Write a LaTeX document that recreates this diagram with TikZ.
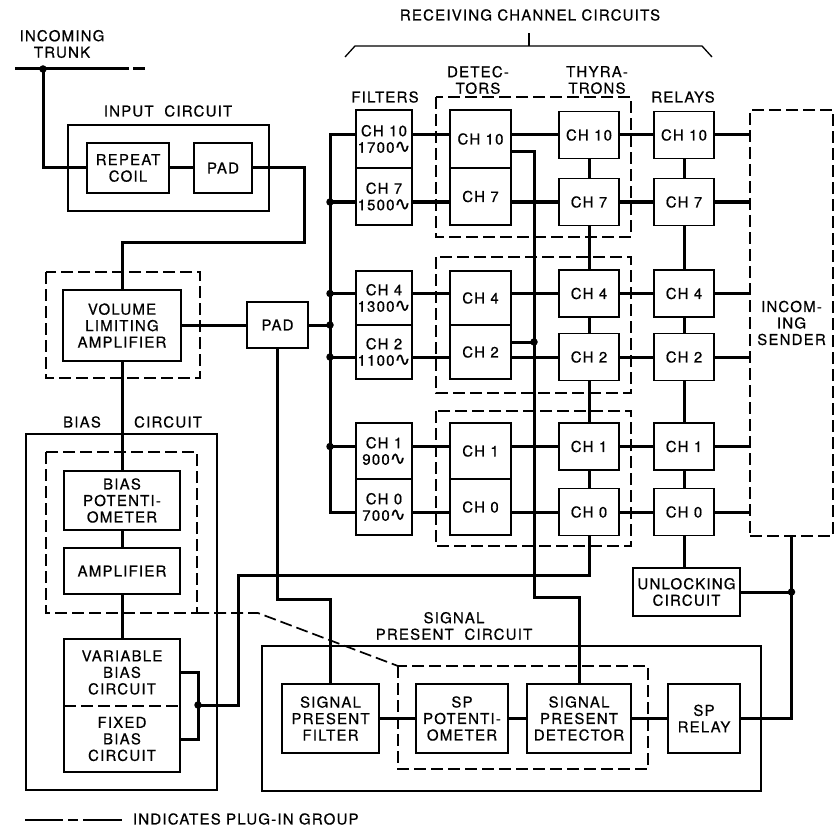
\documentclass[tikz,border=0pt]{standalone}
\usepackage{fontspec}
\setmainfont{TeX Gyre Heros}[LetterSpace=8, FakeBold=0.6]
\newfontfamily\symf{DejaVu Sans}[FakeBold=0.6]
\usetikzlibrary{positioning}
\newcommand{\cyc}{{\symf\fontsize{19}{16.5}\selectfont\char"223F}}
\tikzset{
  lbl/.style={font=\fontsize{15}{16.5}\selectfont, align=center, inner sep=0pt, outer sep=0pt},
  box/.style={lbl, draw, line width=1.3pt, fill=white},
  txt/.style={lbl},
  sz/.style 2 args={minimum width=#1pt, minimum height=#2pt},
  wire/.style={line width=3pt},
  grp/.style={draw, line width=1.7pt, dash pattern=on 12pt off 5pt},
  cktbox/.style={draw, line width=1.3pt},
  dot/.style={circle, fill, inner sep=0pt, minimum size=7.5pt},
}

\begin{document}
\begin{tikzpicture}[x=1pt, y=-1pt]
    \useasboundingbox (0,0) rectangle (840,829);

    % input side
    \node[txt] (trunk) at (62,44) {INCOMING\\TRUNK};
    \coordinate (trA) at (15,69);
    \coordinate (tap) at (43,69);
    \coordinate (trB) at (115,69);
    \coordinate (trC) at (145,69);
    \draw[cktbox] (68,125) rectangle (269,211);
    \node[txt] (inlbl) at (168,111) {INPUT\ \ CIRCUIT};
    \node[box, sz={82}{50}] (rc) at (128,168) {REPEAT\\COIL};
    \node[box, sz={58}{50}] (pad1) at (223,168) {PAD};
    \coordinate (ic) at (304,242);

    \draw[grp] (46,272) rectangle (200,378);
    \node[box, sz={118}{71}] (vla) at (122,325.5) {VOLUME\\LIMITING\\AMPLIFIER};
    \node[box, sz={61}{46}] (pad2) at (277.5,325) {PAD};
    \coordinate (pk) at (277.5,599);

    % bias circuit
    \draw[cktbox] (26,434) rectangle (217,790);
    \node[txt] (blbl) at (82,422) {BIAS};
    \node[txt] (clbl) at (168,422) {CIRCUIT};
    \draw[grp] (46,452) rectangle (197,613);
    \node[box, sz={116}{59}] (bp) at (122,500.5) {BIAS\\POTENTI-\\OMETER};
    \node[box, sz={116}{46}] (amp) at (122,571) {AMPLIFIER};
    \node[txt, sz={116}{67}] (vb) at (122,672.5) {VARIABLE\\BIAS\\CIRCUIT};
    \node[txt, sz={116}{66}, below=0pt of vb] (fb) {FIXED\\BIAS\\CIRCUIT};
    \draw[cktbox] (vb.north west) rectangle (fb.south east);
    \draw[grp, line width=1.3pt] (vb.south west) -- (vb.south east);
    \coordinate (j1) at (198,705);
    \coordinate (bk) at (238,575);

    % receiving channel circuits
    \node[txt] (rcc) at (530,15) {RECEIVING CHANNEL CIRCUITS};
    \draw[line width=1.3pt] (345,57) -- (355,46) -- (702,46) -- (712,57);
    \draw[line width=1.3pt] (529,46) -- (529,33);
    \node[txt] (lfil) at (385,97) {FILTERS};
    \node[txt] (ldet) at (478,80) {DETEC-\\TORS};
    \node[txt] (lthy) at (597,80) {THYRA-\\TRONS};
    \node[txt] (lrel) at (683,97) {RELAYS};

    \foreach \ya/\yb in {97/237, 257/393, 411/546}
      \draw[grp] (436,\ya) rectangle (631,\yb);

    \node[box, sz={56}{58}] (f10) at (384,139) {CH 10\\1700\cyc};
    \node[box, sz={56}{57}, below=0pt of f10] (f7) {CH 7\\1500\cyc};
    \node[box, sz={56}{54}] (f4) at (384,298) {CH 4\\1300\cyc};
    \node[box, sz={56}{54}, below=0pt of f4] (f2) {CH 2\\1100\cyc};
    \node[box, sz={56}{56}] (f1) at (384,451) {CH 1\\900\cyc};
    \node[box, sz={56}{56}, below=0pt of f1] (f0) {CH 0\\700\cyc};

    \node[box, sz={61}{58}] (d10) at (480.5,139) {CH 10};
    \node[box, sz={61}{57}, below=0pt of d10] (d7) {CH 7};
    \node[box, sz={61}{54}] (d4) at (480.5,298) {CH 4};
    \node[box, sz={61}{54}, below=0pt of d4] (d2) {CH 2};
    \node[box, sz={61}{56}] (d1) at (480.5,451) {CH 1};
    \node[box, sz={61}{56}, below=0pt of d1] (d0) {CH 0};

    \foreach \c/\y in {10/135, 7/202, 4/293.5, 2/357, 1/446.5, 0/512} {
      \node[box, sz={60}{47}] (t\c) at (589,\y) {CH \c};
      \node[box, sz={60}{47}] (r\c) at (684,\y) {CH \c};
    }

    \node[lbl, grp, sz={83}{426}] (snd) at (791.5,323) {INCOM-\\ING\\SENDER};
    \node[box, sz={107}{48}] (unl) at (686.5,592) {UNLOCKING\\CIRCUIT};
    \coordinate (bus) at (330,512);
    \coordinate (dv) at (534,597);
    \coordinate (d2o) at ([yshift=10pt]d2.east);

    % signal present circuit
    \draw[cktbox] (262,646) rectangle (761,791);
    \node[txt] (splbl) at (454,626) {SIGNAL\\PRESENT\ \ CIRCUIT};
    \draw[grp] (398,666) rectangle (648,769);
    \draw[grp] (197,613) -- (258,613) -- (398,666);
    \node[box, sz={97}{69}] (spf) at (330.5,718.5) {SIGNAL\\PRESENT\\FILTER};
    \node[box, sz={92}{69}] (spp) at (462,718.5) {SP\\POTENTI-\\OMETER};
    \node[box, sz={104}{69}] (spd) at (579,718.5) {SIGNAL\\PRESENT\\DETECTOR};
    \node[box, sz={72}{69}] (spr) at (704,718.5) {SP\\RELAY};

    % wiring
    \draw[wire] (trA) -- (trB);
    \draw[wire, dash pattern=on 14pt off 4pt] (trB) -- (trC);
    \draw[wire] (tap) |- (rc.west);
    \node[dot] at (tap) {};
    \draw[wire] (rc) -- (pad1);
    \draw[wire] (pad1.east) -| (ic) -| (vla.north);
    \draw[wire] (vla.east) -- (vla.east -| pad2.west);
    \draw[wire] (pad2.east) -- (pad2.east -| bus) node[dot] {};
    \draw[wire] (t10.west -| f10.west) -| (bus) -- (bus -| f0.west);
    \foreach \c in {7,4,2,1}
      \draw[wire] (t\c.west -| bus) node[dot] {} -- (t\c.west -| f\c.west);
    \foreach \c in {10,7,4,2,1,0} {
      \draw[wire] (t\c.west -| f\c.east) -- (t\c.west -| d\c.west);
      \draw[wire] (t\c.west -| d\c.east) -- (t\c.west);
      \draw[wire] (t\c) -- (r\c);
      \draw[wire] (r\c.east) -- (r\c.east -| snd.west);
    }
    \foreach \a/\b in {10/7, 7/4, 4/2, 2/1, 1/0} {
      \draw[wire] (t\a) -- (t\b);
      \draw[wire] (r\a) -- (r\b);
    }
    \draw[wire] (r0.south) -- (r0.south |- unl.north);
    \draw[wire] ([yshift=-13pt]d10.east) -| (dv) -| (spd.north);
    \draw[wire] (d2o) -- (d2o -| dv) node[dot] {};

    \draw[wire] (vla) -- (bp);
    \draw[wire] (bp) -- (amp);
    \draw[wire] (amp.south) -- (vb.north);
    \draw[wire] (t0.south) |- (bk) |- (j1);
    \draw[wire] (vb.east) -| (j1) |- (fb.east);
    \node[dot] at (j1) {};
    \draw[wire] (pad2.south) -- (pk) -| (spf.north);

    \draw[wire] (spf) -- (spp);
    \draw[wire] (spp) -- (spd);
    \draw[wire] (spd) -- (spr);
    \draw[wire] (snd.south) |- (spr.east);
    \draw[wire] (unl.east) -- (unl.east -| snd.south) node[dot] {};

    % legend
    \coordinate (lgA) at (25,820);
    \coordinate (lgB) at (122,820);
    \draw[line width=1.7pt, dash pattern=on 38pt off 5pt on 10pt off 5pt on 40pt] (lgA) -- (lgB);
    \node[txt, anchor=west] (lgt) at (133,819) {INDICATES PLUG-IN GROUP};
  \end{tikzpicture}
\end{document}
